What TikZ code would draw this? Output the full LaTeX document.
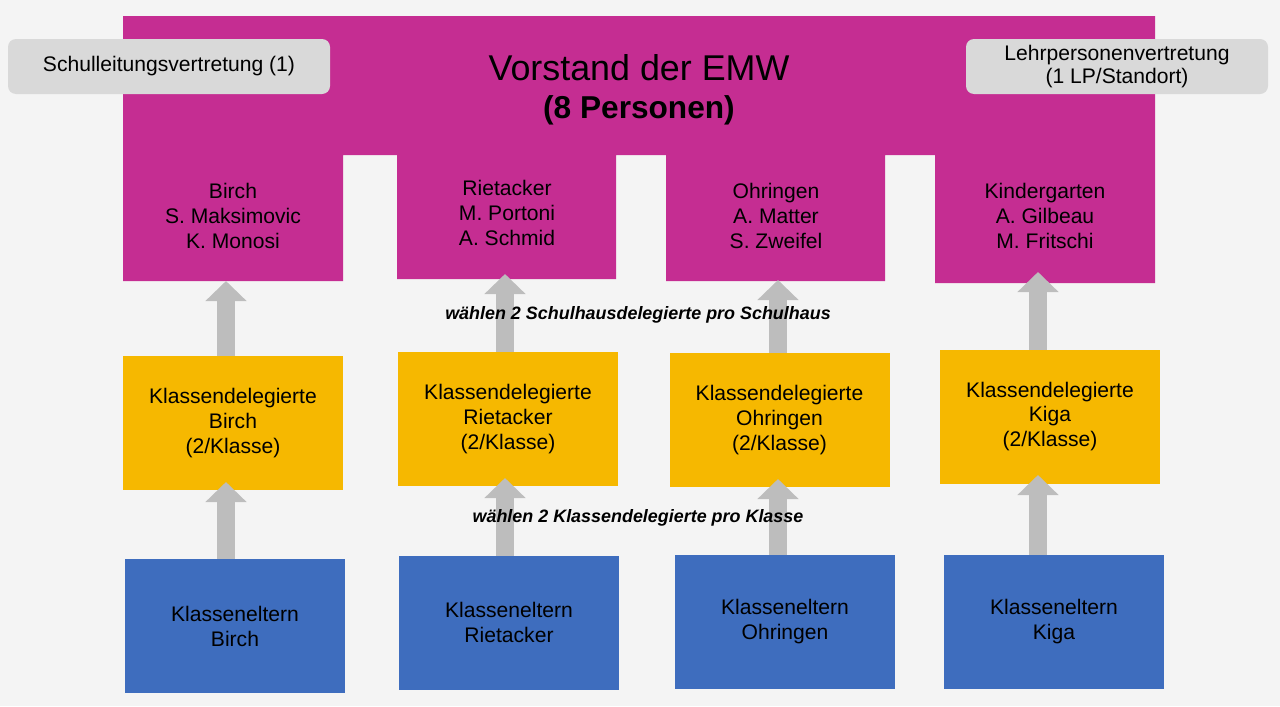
\documentclass[tikz,border=0pt]{standalone}
\usepackage{fontspec}
\setmainfont{Liberation Sans}
\usetikzlibrary{arrows.meta}
\newlength{\pxu}\setlength{\pxu}{1.4226pt}
\definecolor{mag}{HTML}{C52D92}
\definecolor{yel}{HTML}{F6B800}
\definecolor{blu}{HTML}{3E6DBE}
\definecolor{gbx}{HTML}{D9D9D9}
\definecolor{arr}{HTML}{BDBDBD}
\definecolor{bg}{HTML}{F4F4F4}
\tikzset{
 box/.style={minimum width=220\pxu, inner sep=0pt, align=center, font=\fontsize{30}{35.5}\selectfont},
 yb/.style={box, fill=yel, minimum height=134\pxu},
 bb/.style={box, fill=blu, minimum height=134\pxu},
 mt/.style={align=center, font=\fontsize{30}{35.5}\selectfont},
 gb/.style={fill=gbx, rounded corners=8\pxu, align=center, font=\fontsize{30}{32}\selectfont, inner sep=0pt},
 up/.style={draw=arr, line width=25.6pt, -{Triangle[width=57pt,length=28.5pt]}},
 lab/.style={font=\fontsize{25.5}{30}\selectfont\bfseries\itshape}
}
\begin{document}
\begin{tikzpicture}[x=\pxu,y=-\pxu]
\fill[bg] (0,0) rectangle (1280,706);
\useasboundingbox (0,0) rectangle (1280,706);
\fill[mag] (123,16) -- (1155,16) -- (1155,283) -- (935,283) -- (935,155) -- (885,155) -- (885,281) -- (666,281) -- (666,155) -- (616,155) -- (616,279) -- (397,279) -- (397,155) -- (343,155) -- (343,281) -- (123,281) -- cycle;
\node[font=\fontsize{51}{53}\selectfont] (title) at (639,68) {Vorstand der EMW};
\node[font=\fontsize{45}{47}\selectfont\bfseries] (sub) at (639,110) {(8 Personen)};
\node[gb, minimum width=322\pxu, minimum height=55\pxu] (sl) at (169,66.5) {Schulleitungsvertretung (1)};
\node[gb, minimum width=302\pxu, minimum height=55\pxu] (lp) at (1117,66.5) {Lehrpersonenvertretung\\(1 LP/Standort)};
\node[mt] (m1) at (233,216) {Birch\\S. Maksimovic\\K. Monosi};
\node[mt] (m2) at (507,213) {Rietacker\\M. Portoni\\A. Schmid};
\node[mt] (m3) at (776,216) {Ohringen\\A. Matter\\S. Zweifel};
\node[mt] (m4) at (1045,216) {Kindergarten\\A. Gilbeau\\M. Fritschi};
\coordinate (t1) at (226,281); \coordinate (t2) at (505,274); \coordinate (t3) at (778,280); \coordinate (t4) at (1038,272);
\node[yb] (y1) at (233,423) {Klassendelegierte\\Birch\\(2/Klasse)};
\node[yb] (y2) at (508,419) {Klassendelegierte\\Rietacker\\(2/Klasse)};
\node[yb] (y3) at (779.5,420) {Klassendelegierte\\Ohringen\\(2/Klasse)};
\node[yb] (y4) at (1050,416.5) {Klassendelegierte\\Kiga\\(2/Klasse)};
\node[bb] (b1) at (235,626) {Klasseneltern\\Birch};
\node[bb] (b2) at (509,622.5) {Klasseneltern\\Rietacker};
\node[bb] (b3) at (785,621.5) {Klasseneltern\\Ohringen};
\node[bb] (b4) at (1054,621.5) {Klasseneltern\\Kiga};
\draw[up] (226,356) -- (t1);
\draw[up] (505,352) -- (t2);
\draw[up] (778,353) -- (t3);
\draw[up] (1038,350) -- (t4);
\draw[up] (226,559) -- (226,482);
\draw[up] (505,556) -- (505,478);
\draw[up] (778,555) -- (778,479);
\draw[up] (1038,555) -- (1038,475);
\node[lab] (l1) at (638,315) {wählen 2 Schulhausdelegierte pro Schulhaus};
\node[lab] (l2) at (638,518) {wählen 2 Klassendelegierte pro Klasse};
\end{tikzpicture}
\end{document}
